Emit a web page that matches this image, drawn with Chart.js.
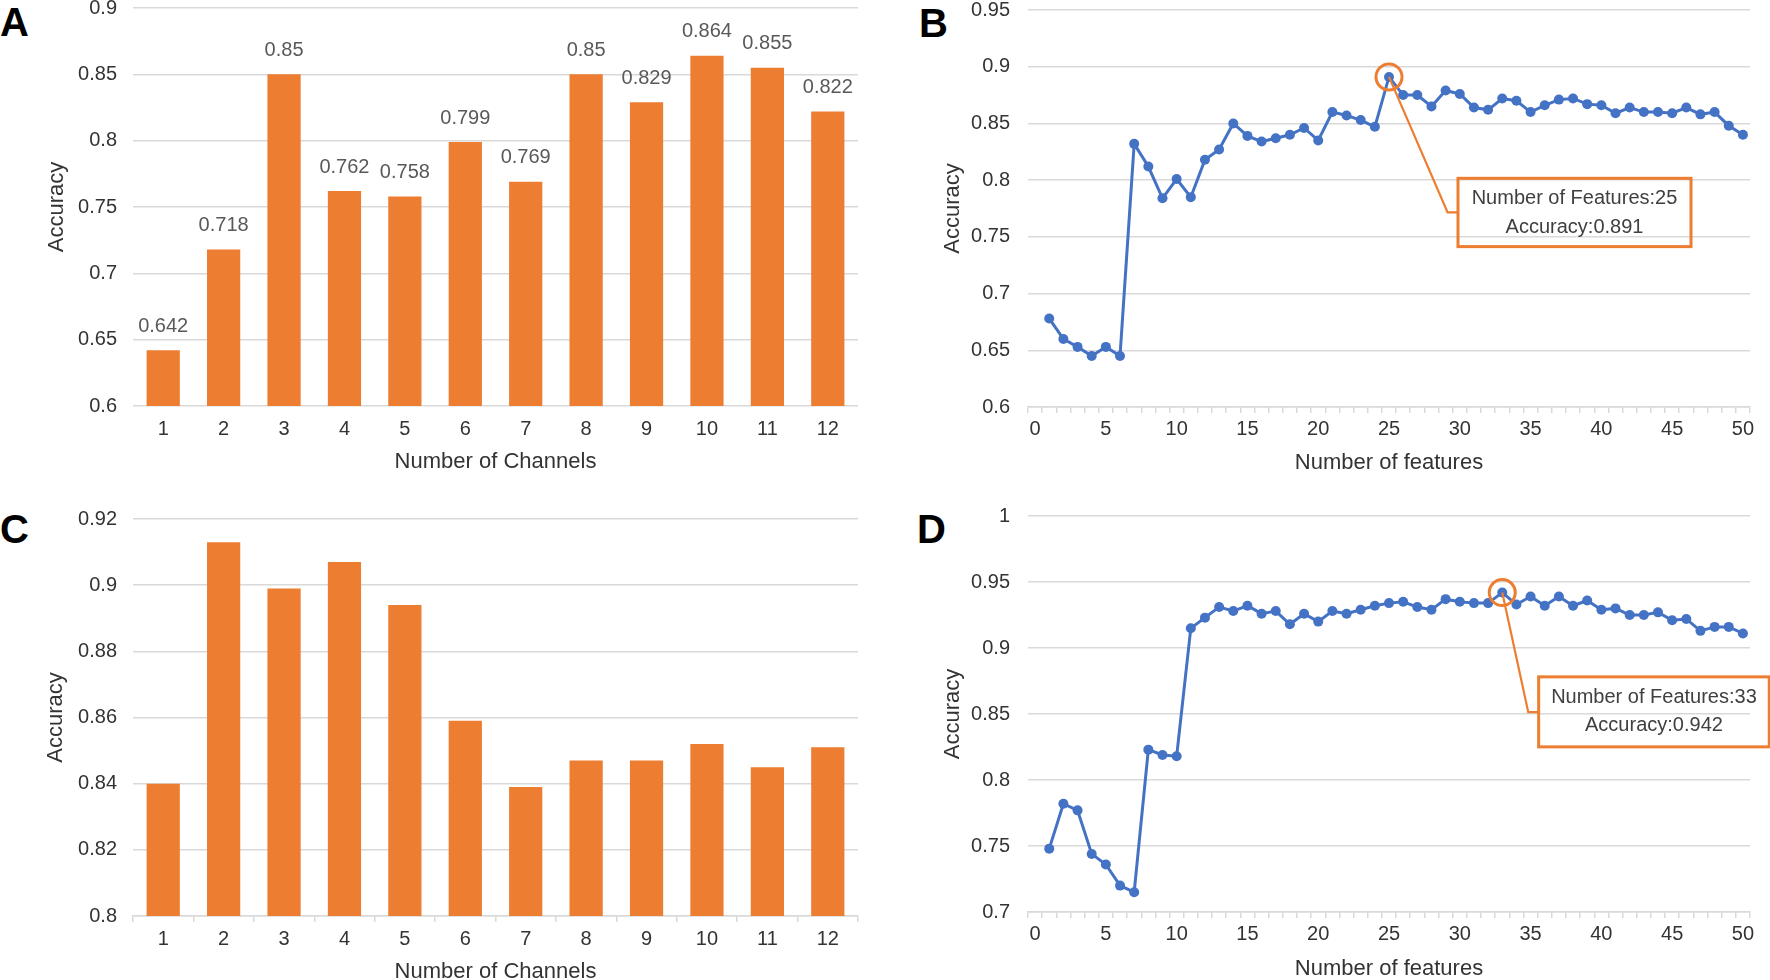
<!DOCTYPE html>
<html><head><meta charset="utf-8">
<script src="https://cdn.jsdelivr.net/npm/chart.js@4.4.1/dist/chart.umd.min.js"></script>
<style>
html,body{margin:0;padding:0;background:#fff;width:1770px;height:980px;overflow:hidden;position:relative;}
canvas{position:absolute;}
.lbl{position:absolute;font:bold 40px 'Liberation Sans',Arial,sans-serif;line-height:40px;color:#000;}
</style></head><body>
<div class="lbl" style="left:0px;top:2px">A</div>
<div class="lbl" style="left:919px;top:3px">B</div>
<div class="lbl" style="left:0px;top:509px">C</div>
<div class="lbl" style="left:917px;top:509px">D</div>
<canvas id="cA" width="880" height="506" style="left:0px;top:-20px"></canvas>
<canvas id="cB" width="882" height="507" style="left:888px;top:-20px"></canvas>
<canvas id="cC" width="880" height="505" style="left:0px;top:491px"></canvas>
<canvas id="cD" width="882" height="506" style="left:888px;top:486px"></canvas>
<script>
// ---------- DATA ----------
const channels = ['1','2','3','4','5','6','7','8','9','10','11','12'];
const accChannelsA = [0.642, 0.718, 0.85, 0.762, 0.758, 0.799, 0.769, 0.85, 0.829, 0.864, 0.855, 0.822];
const accChannelsC = [0.840, 0.913, 0.899, 0.907, 0.894, 0.859, 0.839, 0.847, 0.847, 0.852, 0.845, 0.851];

const featureLabels = ['0','1','2','3','4','5','6','7','8','9','10','11','12','13','14','15','16','17','18','19','20',
  '21','22','23','24','25','26','27','28','29','30','31','32','33','34','35','36','37','38','39','40',
  '41','42','43','44','45','46','47','48','49','50'];
const featureNums = [1,2,3,4,5,6,7,8,9,10,11,12,13,14,15,16,17,18,19,20,21,22,23,24,25,
  26,27,28,29,30,31,32,33,34,35,36,37,38,39,40,41,42,43,44,45,46,47,48,49,50];
const accFeaturesB = [0.678,0.660,0.653,0.645,0.653,0.645,0.832,0.812,0.784,0.801,
  0.785,0.818,0.827,0.850,0.839,0.834,0.837,0.840,0.846,0.835,
  0.860,0.857,0.853,0.847,0.891,0.875,0.875,0.865,0.879,0.876,
  0.864,0.862,0.872,0.870,0.860,0.866,0.871,0.872,0.867,0.866,
  0.859,0.864,0.860,0.860,0.859,0.864,0.858,0.860,0.848,0.840];
const accFeaturesD = [0.748,0.782,0.777,0.744,0.736,0.720,0.715,0.823,0.819,0.818,
  0.915,0.923,0.931,0.928,0.932,0.926,0.928,0.918,0.926,0.920,
  0.928,0.926,0.929,0.932,0.934,0.935,0.931,0.929,0.937,0.935,
  0.934,0.934,0.942,0.933,0.939,0.932,0.939,0.932,0.936,0.929,
  0.930,0.925,0.925,0.927,0.921,0.922,0.913,0.916,0.916,0.911];

const yTicksA = [0.6, 0.65, 0.7, 0.75, 0.8, 0.85, 0.9];
const yTicksB = [0.6, 0.65, 0.7, 0.75, 0.8, 0.85, 0.9, 0.95];
const yTicksC = [0.8, 0.82, 0.84, 0.86, 0.88, 0.9, 0.92];
const yTicksD = [0.7, 0.75, 0.8, 0.85, 0.9, 0.95, 1];

const bestB = {feature: 25, acc: 0.891};
const bestD = {feature: 33, acc: 0.942};

// ---------- STYLE ----------
const FONT = "'Liberation Sans', Arial, sans-serif";
const ORANGE = '#ED7D31';
const BLUE = '#4472C4';
const GRID = '#D9D9D9';
const TICKC = '#333333';

const fmt = v => String(+(+v).toFixed(3));

const barLabelPlugin = {
  id: 'barLabels',
  afterDatasetsDraw(chart, args, opts) {
    if (!opts || !opts.show) return;
    const meta = chart.getDatasetMeta(0);
    const vals = chart.data.datasets[0].data;
    const ctx = chart.ctx;
    ctx.save();
    ctx.font = '20px ' + FONT;
    ctx.fillStyle = '#595959';
    ctx.textAlign = 'center';
    ctx.textBaseline = 'middle';
    meta.data.forEach((b, i) => ctx.fillText(fmt(vals[i]), b.x, b.y - 24));
    ctx.restore();
  }
};

const calloutPlugin = {
  id: 'callout',
  afterDatasetsDraw(chart, args, o) {
    if (!o || !o.best) return;
    const meta = chart.getDatasetMeta(0);
    const idx = featureNums.indexOf(o.best.feature);
    const pt = meta.data[idx];
    const ctx = chart.ctx;
    const bx = pt.x + o.box[0], by = pt.y + o.box[1], bw = o.box[2], bh = o.box[3];
    ctx.save();
    ctx.strokeStyle = ORANGE;
    ctx.lineWidth = 2.2;
    ctx.beginPath();
    ctx.moveTo(pt.x, pt.y);
    ctx.lineTo(pt.x + o.elbow[0], pt.y + o.elbow[1]);
    ctx.lineTo(bx, pt.y + o.elbow[1]);
    ctx.stroke();
    ctx.lineWidth = 3;
    ctx.beginPath();
    ctx.arc(pt.x, pt.y, 13, 0, Math.PI * 2);
    ctx.stroke();
    ctx.strokeRect(bx, by, bw, bh);
    ctx.font = '20px ' + FONT;
    ctx.fillStyle = '#404040';
    ctx.textAlign = 'center';
    ctx.textBaseline = 'middle';
    ctx.fillText('Number of Features:' + o.best.feature, bx + bw / 2, by + 20.5);
    ctx.fillText('Accuracy:' + fmt(o.best.acc), bx + bw / 2, by + 49);
    ctx.restore();
  }
};

function yScale(ticksArr, g) {
  return {
    type: 'linear',
    min: ticksArr[0], max: ticksArr[ticksArr.length - 1],
    afterBuildTicks: s => { s.ticks = ticksArr.map(v => ({value: v})); },
    afterFit: s => { s.width = g.yWidth; },
    grid: {color: GRID, lineWidth: 1.5, drawTicks: false},
    border: {display: false},
    ticks: {padding: g.yTickPad, color: TICKC, font: {family: FONT, size: 20}, callback: v => fmt(v)},
    title: {display: true, text: 'Accuracy', color: TICKC, font: {family: FONT, size: 22},
            padding: {top: g.yTitlePad, bottom: 0}}
  };
}

function xScale(g, title, everyFive) {
  return {
    type: 'category',
    offset: true,
    afterFit: s => { s.height = g.xHeight; },
    grid: {display: g.tickLen > 0, drawOnChartArea: false, drawTicks: g.tickLen > 0, tickLength: g.tickLen,
           color: GRID, lineWidth: 1.5, offset: true},
    border: {display: g.tickLen > 0, color: GRID, width: 1.5},
    ticks: {padding: g.xTickPad, color: TICKC, font: {family: FONT, size: 20}, autoSkip: false, maxRotation: 0, minRotation: 0,
            callback: function(v, i) { const l = this.getLabelForValue(v); return everyFive ? (+l % 5 === 0 ? l : '') : l; }},
    title: {display: true, text: title, color: TICKC, font: {family: FONT, size: 22},
            padding: {top: 0, bottom: g.xTitlePad}}
  };
}

function barChart(id, vals, ticksArr, g, showLabels) {
  return new Chart(document.getElementById(id), {
    type: 'bar',
    data: {labels: channels, datasets: [{data: vals, backgroundColor: ORANGE, borderWidth: 0,
           barPercentage: 0.55, categoryPercentage: 1}]},
    options: {
      responsive: false, animation: false, devicePixelRatio: 1,
      layout: {padding: {top: g.padTop, right: g.padRight, left: 0, bottom: 0}},
      plugins: {legend: {display: false}, tooltip: {enabled: false}, barLabels: {show: showLabels}},
      scales: {x: xScale(g, 'Number of Channels', false), y: yScale(ticksArr, g)}
    },
    plugins: [barLabelPlugin]
  });
}

function lineChart(id, vals, ticksArr, g, callout) {
  return new Chart(document.getElementById(id), {
    type: 'line',
    data: {labels: featureLabels, datasets: [{
      data: featureNums.map((f, i) => ({x: String(f), y: vals[i]})),
      borderColor: BLUE, backgroundColor: BLUE, borderWidth: 3, tension: 0,
      pointRadius: 5, pointBackgroundColor: BLUE, pointBorderWidth: 0, fill: false}]},
    options: {
      responsive: false, animation: false, devicePixelRatio: 1,
      layout: {padding: {top: g.padTop, right: g.padRight, left: 0, bottom: 0}},
      plugins: {legend: {display: false}, tooltip: {enabled: false}, callout: callout},
      scales: {x: xScale(g, 'Number of features', true), y: yScale(ticksArr, g)}
    },
    plugins: [calloutPlugin]
  });
}

const gA = {padTop: 27, padRight: 22, yWidth: 133, xHeight: 80, yTickPad: 16, yTitlePad: 43.8, xTickPad: 11, tickLen: 0, xTitlePad: 10.5};
const gC = {padTop: 27, padRight: 22, yWidth: 133, xHeight: 80, yTickPad: 16, yTitlePad: 43.2, xTickPad: 5, tickLen: 6, xTitlePad: 10.5};
const gB = {padTop: 28, padRight: 20, yWidth: 140, xHeight: 80, yTickPad: 18, yTitlePad: 51.8, xTickPad: 4, tickLen: 6, xTitlePad: 11};
const gD = {padTop: 28, padRight: 20, yWidth: 140, xHeight: 80, yTickPad: 18, yTitlePad: 51.8, xTickPad: 4, tickLen: 6, xTitlePad: 9.5};

barChart('cA', accChannelsA, yTicksA, gA, true);
barChart('cC', accChannelsC, yTicksC, gC, false);
lineChart('cB', accFeaturesB, yTicksB, gB, {best: bestB, elbow: [58.6, 135.4], box: [69, 101.4, 233, 68.3]});
lineChart('cD', accFeaturesD, yTicksD, gD, {best: bestD, elbow: [26, 119.6], box: [36.4, 84.3, 230.6, 70]});
</script>
</body></html>
